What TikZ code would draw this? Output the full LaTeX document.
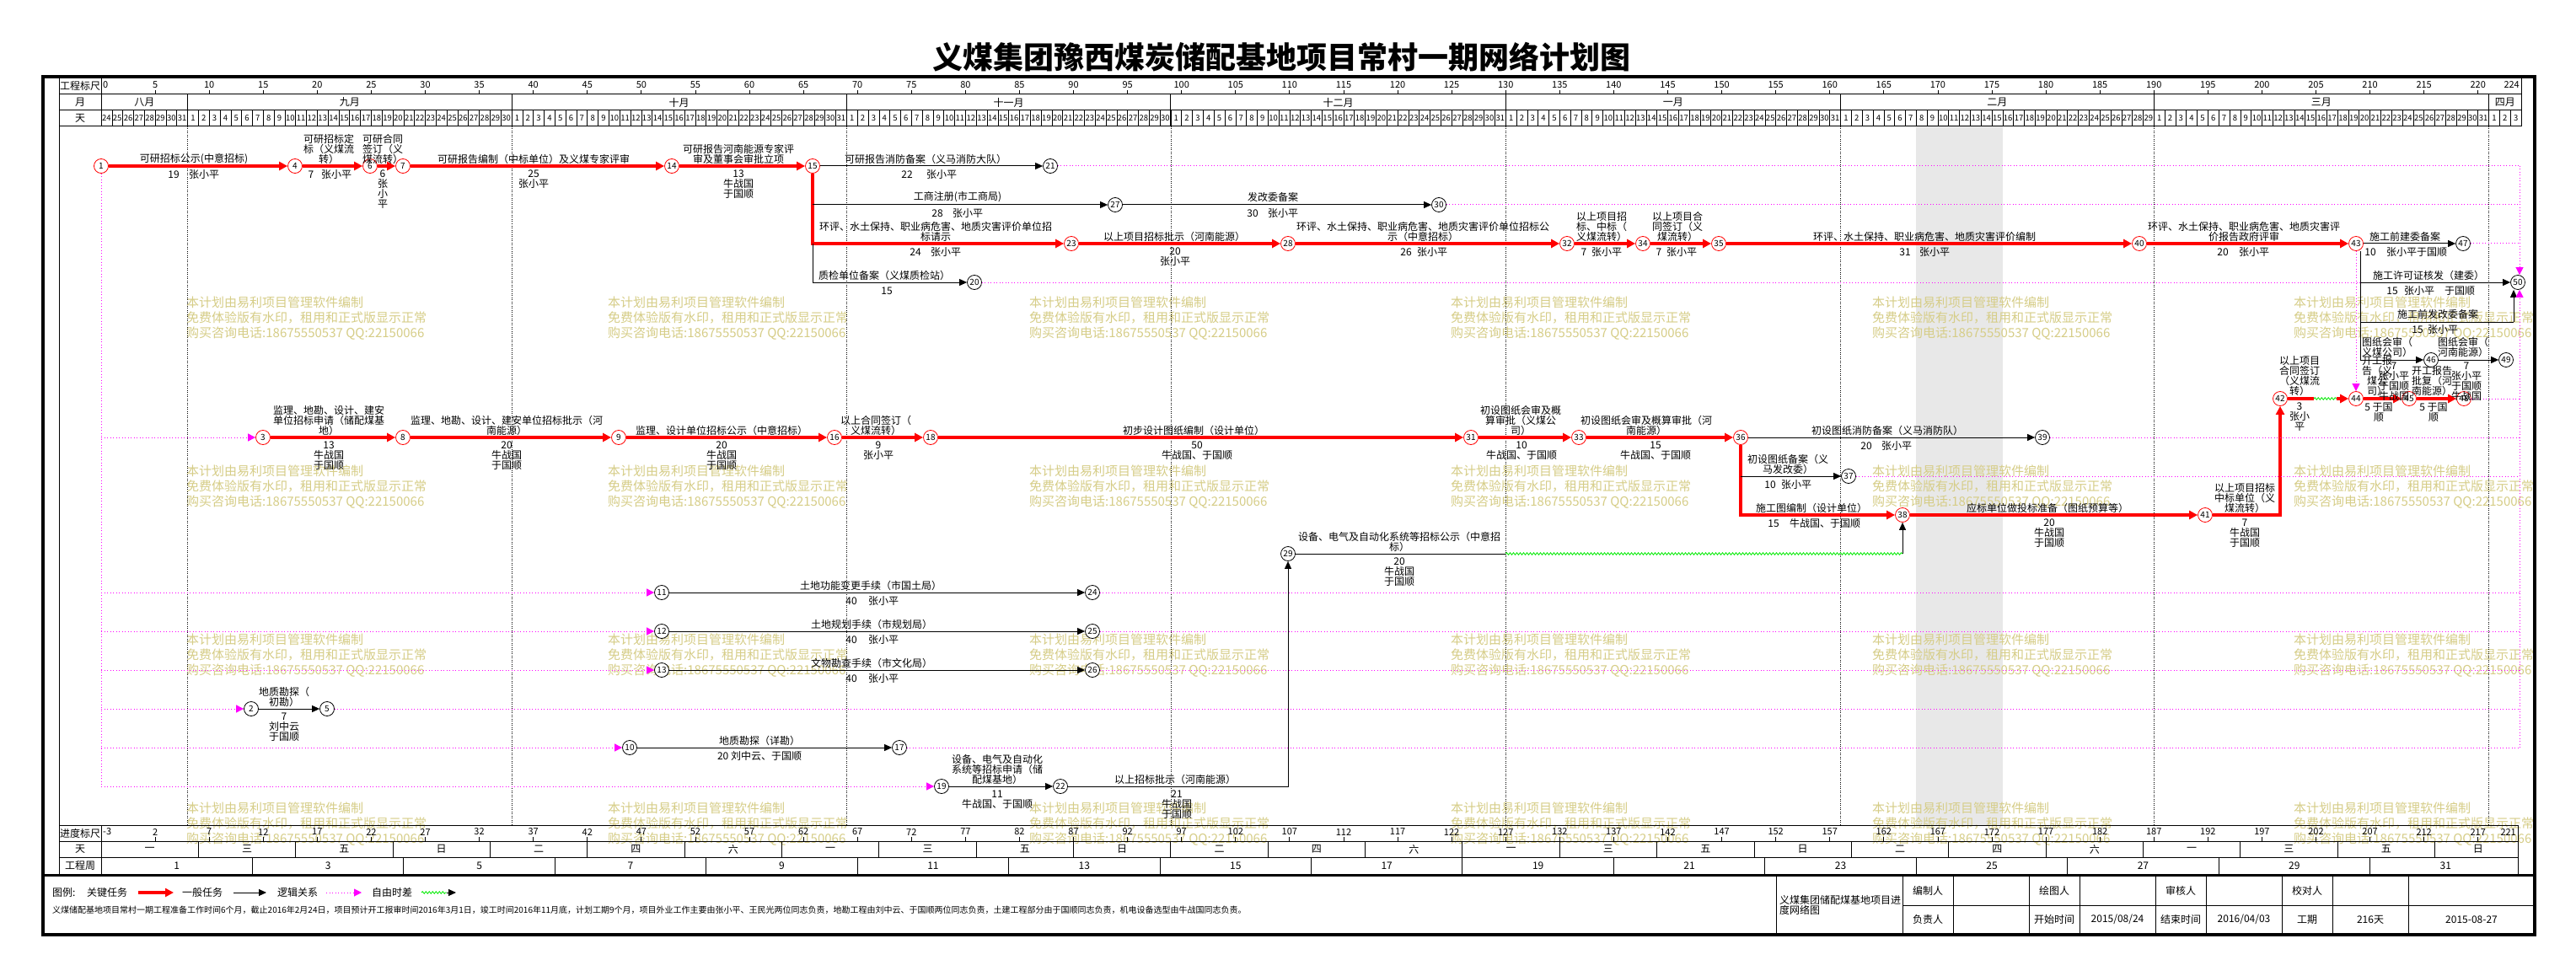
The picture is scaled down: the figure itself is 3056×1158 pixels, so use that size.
\documentclass[tikz,border=0pt]{standalone}
\usepackage{fontspec}
\setmainfont{Noto Sans CJK SC}
\usetikzlibrary{arrows.meta,decorations.pathmorphing,calc}
\definecolor{wm}{RGB}{214,205,135}
\definecolor{mag}{RGB}{255,0,255}
\definecolor{grn}{RGB}{0,235,0}
\definecolor{crit}{RGB}{255,0,0}
\newcommand\mylab[4]{\node[lab] (#1) at (#2,#3) {#4};}
\newcommand\wkname[1]{\ifcase#1 一\or 三\or 五\or 日\or 二\or 四\or 六\fi}
\newcommand\dayx[1]{120+12.817*(#1)}
\begin{document}
\begin{tikzpicture}[x=1pt,y=-1pt,
 lab/.style={font=\fontsize{12}{12}\selectfont, align=center, inner sep=0},
 rul/.style={font=\fontsize{11}{11}\selectfont, inner sep=0},
 daynum/.style={font=\fontsize{9.5}{9.5}\selectfont, inner sep=0},
 wk/.style={font=\fontsize{12}{12}\selectfont, inner sep=0},
 cnode/.style={circle, draw=crit, line width=0.8pt, minimum size=17pt, inner sep=0, font=\fontsize{10}{10}\selectfont, fill=white},
 nnode/.style={circle, draw=black, line width=0.8pt, minimum size=17pt, inner sep=0, font=\fontsize{10}{10}\selectfont, fill=white},
 critline/.style={draw=crit, line width=3.4pt},
 critarr/.style={critline, -{Triangle[length=10pt,width=10pt]}},
 normline/.style={draw=black, line width=1pt},
 normarr/.style={normline, -{Triangle[length=9pt,width=8pt]}},
 floatline/.style={draw=mag, line width=1pt, dash pattern=on 1pt off 2.5pt},
 floatarr/.style={floatline, -{Triangle[length=9pt,width=9pt]}},
 wavy/.style={draw=grn, line width=0.8pt, decorate, decoration={snake, amplitude=1.3pt, segment length=4pt}},
 monthline/.style={draw=black, line width=0.7pt, dash pattern=on 1pt off 1.5pt},
 wmark/.style={text=wm, font=\fontsize{15}{18}\selectfont, align=left, anchor=north west, inner sep=0},
 frame/.style={draw=black, line width=1pt}]
\useasboundingbox (0,0) rectangle (3056,1158);
\fill[white] (0,0) rectangle (3056,1158);

% title
\node[font=\fontsize{36}{36}\selectfont\bfseries, inner sep=0] (title) at (1520,68) {义煤集团豫西煤炭储配基地项目常村一期网络计划图};

% spring festival shading
\fill[gray!18] ({\dayx{168}},150) rectangle ({\dayx{176}},979);

% watermarks
\foreach \c in {0,...,5} {
 \foreach \r in {0,...,3} {
  \node[wmark] (wm-\c-\r) at ({221+500*\c},{352+200*\r}) {本计划由易利项目管理软件编制\\免费体验版有水印，租用和正式版显示正常\\购买咨询电话:18675550537 QQ:22150066};
 }
}

% frame
\draw[line width=4pt] (51,91) rectangle (3007,1109);
\draw[frame] (70,91) -- (70,1038);
\draw[frame] (120,91) -- (120,150);
\draw[frame] (70,112) -- (2991,112) (70,131) -- (2991,131) (70,150) -- (2991,150);
\draw[frame] (2991,91) -- (2991,150);
\draw[frame] (70,979) -- (2987,979) (70,998) -- (2987,998) (70,1017) -- (2987,1017);
\draw[frame] (120,979) -- (120,1037) (2987,979) -- (2987,1037);
\draw[line width=3pt] (51,1038) -- (3007,1038);

% header labels
\node[wk] (h1) at (95,102) {工程标尺};
\node[wk] (h2) at (95,121.5) {月};
\node[wk] (h3) at (95,140.5) {天};
\node[wk] (f1) at (95,988.5) {进度标尺};
\node[wk] (f2) at (95,1007.5) {天};
\node[wk] (f3) at (95,1027) {工程周};

% ruler
\foreach \k in {5,10,...,220} {
 \draw[line width=0.8pt] ({\dayx{\k}},107) -- ({\dayx{\k}},112);
 \node[rul] (r\k) at ({\dayx{\k}},101) {\k};
}
\node[rul,anchor=west] (r0) at (122,101) {0};
\node[rul,anchor=east] (r224) at (2989,101) {224};

% months
\foreach \d in {8,38,69,99,130,161,190,221} {
 \draw[frame] ({\dayx{\d}},112) -- ({\dayx{\d}},150);
 \draw[monthline] ({\dayx{\d}},150) -- ({\dayx{\d}},979);
}
\foreach \m/\t in {4/八月,23/九月,53.5/十月,84/十一月,114.5/十二月,145.5/一月,175.5/二月,205.5/三月,222.5/四月} {
 \node[wk] (mo\m) at ({\dayx{\m}},121.5) {\t};
}
% day cells
\foreach \d in {1,...,223} {
 \draw[line width=0.6pt] ({\dayx{\d}},131) -- ({\dayx{\d}},150);
}
\foreach \ms/\ml/\fd in {0/8/24,8/30/1,38/31/1,69/30/1,99/31/1,130/31/1,161/29/1,190/31/1,221/3/1} {
 \foreach \j in {1,...,\ml} {
  \pgfmathtruncatemacro\dn{\fd+\j-1}
  \pgfmathsetmacro\cx{120+12.817*(\ms+\j-0.5)}
  \node[daynum] (dn-\ms-\j) at (\cx,140.5) {\dn};
 }
}

% bottom ruler
\foreach \k in {5,10,...,220} {
 \pgfmathtruncatemacro\v{\k-3}
 \draw[line width=0.8pt] ({\dayx{\k}},993) -- ({\dayx{\k}},998);
 \node[rul] (b\k) at ({\dayx{\k}},987) {\v};
}
\node[rul,anchor=west] (b0) at (122,987) {-3};
\node[rul,anchor=east] (b224) at (2985,987) {221};
\foreach \k in {0,...,24} {
 \pgfmathtruncatemacro\m{mod(\k,7)}
 \pgfmathsetmacro\cx{120+12.817*min(9*\k+4.5,220)}
 \node[wk] (wd\k) at (\cx,1007.5) {\wkname{\m}};
 \ifnum\k>0 \draw[frame] ({\dayx{9*\k}},998) -- ({\dayx{9*\k}},1017); \fi
}
\foreach \k in {0,...,15} {
 \pgfmathtruncatemacro\w{2*\k+1}
 \node[wk] (wn\k) at ({\dayx{14*\k+7}},1027) {\w};
 \ifnum\k>0 \draw[frame] ({\dayx{14*\k}},1017) -- ({\dayx{14*\k}},1037); \fi
}

% ---------- nodes ----------
\foreach \n/\x/\y in {1/120/197,4/350/197,6/439/197,7/478/197,14/797/197,15/964/197,
 23/1271/289,28/1528/289,32/1859/289,34/1949/289,35/2039/289,40/2538/289,43/2795/289,
 3/312/519,8/478/519,9/734/519,16/990/519,18/1104/519,31/1745/519,33/1873/519,36/2065/519,
 38/2257/611,41/2616/611,42/2705/473,44/2795/473,45/2858/473,48/2923/473}
 \node[cnode] (n\n) at (\x,\y) {\n};
\foreach \n/\x/\y in {21/1246/197,27/1323/243,30/1707/243,20/1156/335,47/2922/289,50/2987/335,
 46/2884/427,49/2973/427,39/2423/519,37/2193/565,29/1528/657,11/785/703,24/1296/703,
 12/785/749,25/1296/749,13/785/795,26/1296/795,2/298/841,5/388/841,10/747/887,17/1067/887,
 19/1117/933,22/1258/933}
 \node[nnode] (n\n) at (\x,\y) {\n};

% ---------- critical activities ----------
\draw[critarr] (n1) -- (n4);
\draw[critarr] (n4) -- (n6);
\draw[critarr] (n6) -- (n7);
\draw[critarr] (n7) -- (n14);
\draw[critarr] (n14) -- (n15);
\draw[critarr] (n15) |- (n23);
\draw[critarr] (n23) -- (n28);
\draw[critarr] (n28) -- (n32);
\draw[critarr] (n32) -- (n34);
\draw[critarr] (n34) -- (n35);
\draw[critarr] (n35) -- (n40);
\draw[critarr] (n40) -- (n43);
\draw[critarr] (n3) -- (n8);
\draw[critarr] (n8) -- (n9);
\draw[critarr] (n9) -- (n16);
\draw[critarr] (n16) -- (n18);
\draw[critarr] (n18) -- (n31);
\draw[critarr] (n31) -- (n33);
\draw[critarr] (n33) -- (n36);
\draw[critarr] (n36) |- (n38);
\draw[critarr] (n38) -- (n41);
\draw[critarr] (n41) -| (n42);
\coordinate (w42a) at (2745,473);
\coordinate (w42b) at (2772,473);
\draw[critline] (n42) -- (w42a);
\draw[wavy] (w42a) -- (w42b);
\draw[critarr] (w42b) -- (n44);
\draw[critarr] (n44) -- (n45);
\draw[critarr] (n45) -- (n48);

% ---------- normal activities ----------
\draw[normarr] (n15) -- (n21);
\draw[normarr] (n15 |- n27) -- (n27);
\draw[normarr] (n27) -- (n30);
\draw[normarr] (n15 |- n23) |- (n20);
\draw[normarr] (n43) -- (n47);
\coordinate (v43) at ([xshift=5pt]n43.south);
\draw[normline] (v43) -- (v43 |- n46);
\draw[normarr] (v43 |- n50) -- (n50);
\coordinate (c382) at (2982,382);
\draw[normline] (v43 |- c382) -- (c382);
\draw[normarr] (c382) -- ([xshift=-5pt]n50.south);
\draw[normarr] (v43 |- n46) -- (n46);
\draw[normarr] (n46) -- (n49);
\draw[normarr] (n36) -- (n39);
\draw[normarr] (n36 |- n37) -- (n37);
\coordinate (w29) at ({\dayx{130}},657);
\draw[normline] (n29) -- (w29);
\draw[wavy] (w29) -- (n38 |- n29);
\draw[normarr] (n38 |- n29) -- (n38);
\draw[normarr] (n11) -- (n24);
\draw[normarr] (n12) -- (n25);
\draw[normarr] (n13) -- (n26);
\draw[normarr] (n2) -- (n5);
\draw[normarr] (n10) -- (n17);
\draw[normarr] (n19) -- (n22);
\draw[normarr] (n22) -| (n29);

% ---------- free float ----------
\draw[floatline] (n1) -- (n1 |- n19);
\foreach \t in {n3,n11,n12,n13,n2,n10,n19}
 \draw[floatarr] (n1 |- \t) -- (\t);
\coordinate (Rt) at (2989,197);
\coordinate (Rb) at (2989,887);
\foreach \s in {n21,n30,n47,n48,n39,n37,n24,n25,n26,n5,n17}
 \draw[floatline] (\s) -- (Rt |- \s);
\draw[floatarr] (Rt) -- ([xshift=2pt]n50.north);
\draw[floatarr] (Rb) -- ([xshift=2pt]n50.south);
\draw[floatline] (n20) -- (v43 |- n20);
\draw[floatarr] (n43) -- (n44);

% ---------- activity labels ----------
\mylab{a1}{230}{189}{可研招标公示(中意招标)}
\mylab{b1a}{206}{207}{19}
\mylab{b1b}{242}{207}{张小平}
\mylab{a4}{390}{177}{可研招标定\\标（义煤流\\转）}
\mylab{b4a}{369}{207}{7}
\mylab{b4b}{399}{207}{张小平}
\mylab{a6}{454}{177}{可研合同\\签订（义\\煤流转）}
\mylab{b6}{454}{225}{6\\张\\小\\平}
\mylab{a7}{633}{189}{可研报告编制（中标单位）及义煤专家评审}
\mylab{b7}{633}{213}{25\\张小平}
\mylab{a14}{876}{183}{可研报告河南能源专家评\\审及董事会审批立项}
\mylab{b14}{876}{219}{13\\牛战国\\于国顺}
\mylab{a21}{1098}{189}{可研报告消防备案（义马消防大队）}
\mylab{b21a}{1076}{207}{22}
\mylab{b21b}{1117}{207}{张小平}
\mylab{a27}{1136}{234}{工商注册(市工商局)}
\mylab{b27a}{1112}{253}{28}
\mylab{b27b}{1148}{253}{张小平}
\mylab{a30}{1510}{234}{发改委备案}
\mylab{b30a}{1486}{253}{30}
\mylab{b30b}{1522}{253}{张小平}
\mylab{a23}{1110}{275}{环评、水土保持、职业病危害、地质灾害评价单位招\\标请示}
\mylab{b23a}{1086}{299}{24}
\mylab{b23b}{1122}{299}{张小平}
\mylab{a28}{1393}{281}{以上项目招标批示（河南能源）}
\mylab{b28}{1394}{305}{20\\张小平}
\mylab{a32}{1688}{275}{环评、水土保持、职业病危害、地质灾害评价单位招标公\\示（中意招标）}
\mylab{b32a}{1668}{299}{26}
\mylab{b32b}{1699}{299}{张小平}
\mylab{a34}{1900}{269}{以上项目招\\标、中标（\\义煤流转）}
\mylab{b34a}{1879}{299}{7}
\mylab{b34b}{1906}{299}{张小平}
\mylab{a35}{1990}{269}{以上项目合\\同签订（义\\煤流转）}
\mylab{b35a}{1968}{299}{7}
\mylab{b35b}{1995}{299}{张小平}
\mylab{a40}{2283}{281}{环评、水土保持、职业病危害、地质灾害评价编制}
\mylab{b40a}{2260}{299}{31}
\mylab{b40b}{2295}{299}{张小平}
\mylab{a43}{2662}{275}{环评、水土保持、职业病危害、地质灾害评\\价报告政府评审}
\mylab{b43a}{2637}{299}{20}
\mylab{b43b}{2674}{299}{张小平}
\mylab{a20}{1049}{327}{质检单位备案（义煤质检站）}
\mylab{b20}{1052}{345}{15}
\mylab{a47}{2853}{281}{施工前建委备案}
\mylab{b47a}{2812}{299}{10}
\mylab{b47b}{2867}{299}{张小平于国顺}
\mylab{a50}{2881}{327}{施工许可证核发（建委）}
\mylab{b50a}{2838}{345}{15}
\mylab{b50b}{2870}{345}{张小平}
\mylab{b50c}{2918}{345}{于国顺}
\mylab{a50b}{2892}{373}{施工前发改委备案}
\mylab{b50d}{2868}{391}{15}
\mylab{b50e}{2898}{391}{张小平}
\mylab{a46}{2832}{412}{图纸会审（\\义煤公司）}
\mylab{b46}{2840}{453}{7\\张小平\\于国顺\\牛战国}
\mylab{a49}{2922}{412}{图纸会审（\\河南能源）}
\mylab{b49}{2926}{453}{7\\张小平\\于国顺\\牛战国}
\mylab{a44}{2728}{446}{以上项目\\合同签订\\（义煤流\\转）}
\mylab{b44}{2728}{495}{3\\张小\\平}
\mylab{a45}{2820}{446}{开工报\\告（义\\煤公\\司）}
\mylab{b45}{2822}{489}{5\ 于国\\顺}
\mylab{a48}{2885}{452}{开工报告\\批复（河\\南能源）}
\mylab{b48}{2887}{489}{5\ 于国\\顺}
\mylab{a8}{390}{499}{监理、地勘、设计、建安\\单位招标申请（储配煤基\\地）}
\mylab{b8}{390}{541}{13\\牛战国\\于国顺}
\mylab{a9}{601}{505}{监理、地勘、设计、建安单位招标批示（河\\南能源）}
\mylab{b9}{601}{541}{20\\牛战国\\于国顺}
\mylab{a16}{856}{511}{监理、设计单位招标公示（中意招标）}
\mylab{b16}{856}{541}{20\\牛战国\\于国顺}
\mylab{a18}{1039}{505}{以上合同签订（\\义煤流转）}
\mylab{b18}{1042}{535}{9\\张小平}
\mylab{a31}{1416}{511}{初步设计图纸编制（设计单位）}
\mylab{b31}{1420}{535}{50\\牛战国、于国顺}
\mylab{a33}{1804}{499}{初设图纸会审及概\\算审批（义煤公\\司）}
\mylab{b33}{1805}{535}{10\\牛战国、于国顺}
\mylab{a36}{1953}{505}{初设图纸会审及概算审批（河\\南能源）}
\mylab{b36}{1964}{535}{15\\牛战国、于国顺}
\mylab{a39}{2239}{511}{初设图纸消防备案（义马消防队）}
\mylab{b39a}{2214}{529}{20}
\mylab{b39b}{2250}{529}{张小平}
\mylab{a37}{2121}{551}{初设图纸备案（义\\马发改委）}
\mylab{b37a}{2100}{575}{10}
\mylab{b37b}{2131}{575}{张小平}
\mylab{a38}{2149}{603}{施工图编制（设计单位）}
\mylab{b38a}{2104}{621}{15}
\mylab{b38b}{2165}{621}{牛战国、于国顺}
\mylab{a41}{2429}{603}{应标单位做投标准备（图纸预算等）}
\mylab{b41}{2431}{633}{20\\牛战国\\于国顺}
\mylab{a42}{2663}{591}{以上项目招标\\中标单位（义\\煤流转）}
\mylab{b42}{2663}{633}{7\\牛战国\\于国顺}
\mylab{a29}{1660}{643}{设备、电气及自动化系统等招标公示（中意招\\标）}
\mylab{b29}{1660}{679}{20\\牛战国\\于国顺}
\mylab{a24}{1033}{695}{土地功能变更手续（市国土局）}
\mylab{b24a}{1010}{713}{40}
\mylab{b24b}{1048}{713}{张小平}
\mylab{a25}{1034}{741}{土地规划手续（市规划局）}
\mylab{b25a}{1010}{759}{40}
\mylab{b25b}{1048}{759}{张小平}
\mylab{a26}{1034}{787}{文物勘查手续（市文化局）}
\mylab{b26a}{1010}{805}{40}
\mylab{b26b}{1048}{805}{张小平}
\mylab{a5}{337}{827}{地质勘探（\\初勘）}
\mylab{b5}{337}{863}{7\\刘中云\\于国顺}
\mylab{a17}{901}{879}{地质勘探（详勘）}
\mylab{b17}{901}{897}{20\ 刘中云、于国顺}
\mylab{a22}{1183}{913}{设备、电气及自动化\\系统等招标申请（储\\配煤基地）}
\mylab{b22}{1183}{949}{11\\牛战国、于国顺}
\mylab{a29b}{1394}{925}{以上招标批示（河南能源）}
\mylab{b29b}{1396}{955}{21\\牛战国\\于国顺}

% ---------- legend ----------
\node[lab,anchor=west] (lg0) at (62,1059) {图例:};
\node[lab,anchor=west] (lg1) at (103,1059) {关键任务};
\coordinate (lgA1) at (164,1059); \coordinate (lgA2) at (206,1059);
\draw[critarr] (lgA1) -- (lgA2);
\node[lab,anchor=west] (lg2) at (216,1059) {一般任务};
\coordinate (lgB1) at (277,1059); \coordinate (lgB2) at (316,1059);
\draw[normarr] (lgB1) -- (lgB2);
\node[lab,anchor=west] (lg3) at (329,1059) {逻辑关系};
\coordinate (lgC1) at (387,1059); \coordinate (lgC2) at (429,1059);
\draw[floatarr] (lgC1) -- (lgC2);
\node[lab,anchor=west] (lg4) at (441,1059) {自由时差};
\coordinate (lgD1) at (500,1059); \coordinate (lgD2) at (530,1059); \coordinate (lgD3) at (541,1059);
\draw[wavy] (lgD1) -- (lgD2);
\draw[normarr] (lgD2) -- (lgD3);
\node[font=\fontsize{10}{10}\selectfont, anchor=west, inner sep=0] (note) at (62,1080) {义煤储配基地项目常村一期工程准备工作时间6个月，截止2016年2月24日，项目预计开工报审时间2016年3月1日，竣工时间2016年11月底，计划工期9个月，项目外业工作主要由张小平、王民光两位同志负责，地勘工程由刘中云、于国顺两位同志负责，土建工程部分由于国顺同志负责，机电设备选型由牛战国同志负责。};

% ---------- title block ----------
\foreach \xx in {2107,2257,2317,2407,2467,2557,2617,2707,2767,2857}
 \draw[frame] (\xx,1039) -- (\xx,1108);
\draw[frame] (2257,1074) -- (3006,1074);
\node[lab,anchor=west,align=left] (tb0) at (2111,1074) {义煤集团储配煤基地项目进\\度网络图};
\mylab{tb1}{2287}{1057}{编制人}
\mylab{tb2}{2437}{1057}{绘图人}
\mylab{tb3}{2587}{1057}{审核人}
\mylab{tb4}{2737}{1057}{校对人}
\mylab{tb5}{2287}{1091}{负责人}
\mylab{tb6}{2437}{1091}{开始时间}
\mylab{tb7}{2512}{1091}{2015/08/24}
\mylab{tb8}{2587}{1091}{结束时间}
\mylab{tb9}{2662}{1091}{2016/04/03}
\mylab{tb10}{2737}{1091}{工期}
\mylab{tb11}{2812}{1091}{216天}
\mylab{tb12}{2932}{1091}{2015-08-27}
\end{tikzpicture}
\end{document}
